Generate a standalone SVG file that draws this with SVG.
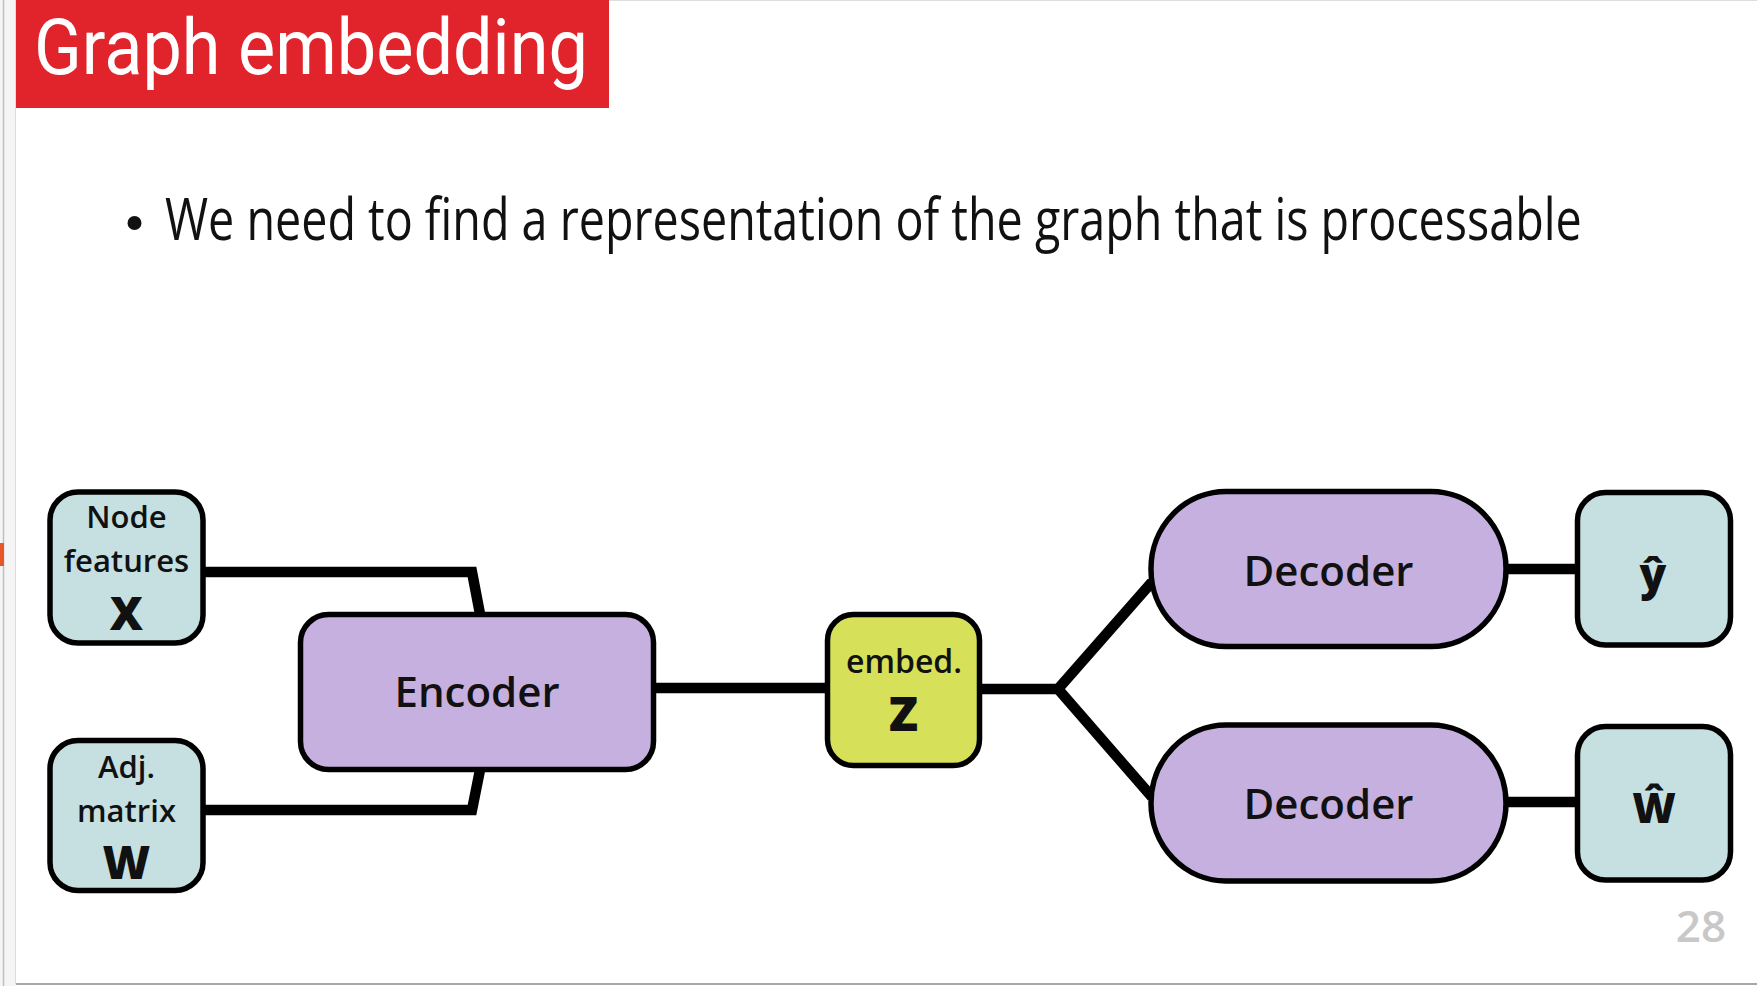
<svg xmlns="http://www.w3.org/2000/svg" width="1757" height="986" viewBox="0 0 1757 986">
  <style>
    .lbl { font-family: "Open Sans", "Noto Sans", "Liberation Sans", sans-serif; font-weight: 600; fill: #111; text-anchor: middle; }
    .big { font-family: "Open Sans", "Noto Sans", "Liberation Sans", sans-serif; font-weight: 800; fill: #111; text-anchor: middle; }
    .teal { fill: #c6e0e2; stroke: #000; stroke-width: 5.5; }
    .purple { fill: #c6b0e0; stroke: #000; stroke-width: 5.5; }
    .yellow { fill: #d6e058; stroke: #000; stroke-width: 5.5; }
    .conn { fill: none; stroke: #000; stroke-width: 10.5; stroke-linejoin: miter; stroke-linecap: butt; }
  </style>
  <rect x="0" y="0" width="1757" height="986" fill="#ffffff"/>
  <!-- slide frame -->
  <rect x="0" y="0" width="16" height="986" fill="#f5f5f5"/>
  <line x1="3.5" y1="0" x2="3.5" y2="986" stroke="#c0c0c0" stroke-width="1.5"/>
  <line x1="15.5" y1="0" x2="15.5" y2="984" stroke="#dcdcdc" stroke-width="1"/>
  <rect x="0" y="543" width="4" height="23" fill="#e8572a"/>
  <line x1="16" y1="0.5" x2="1757" y2="0.5" stroke="#dddddd" stroke-width="1"/>
  <line x1="16" y1="984" x2="1757" y2="984" stroke="#a8a8a8" stroke-width="2"/>

  <!-- title -->
  <g id="title">
    <rect x="16" y="0" width="593" height="108" fill="#e1232b"/>
    <text transform="translate(34,74) scale(0.912,1)" x="0" y="0" font-family="Roboto, 'Open Sans', sans-serif" font-size="77" fill="#ffffff">Graph embedding</text>
  </g>

  <!-- bullet -->
  <g id="bullet">
    <circle cx="134.5" cy="223" r="7" fill="#111"/>
    <text transform="translate(165,240) scale(0.8045,1)" x="0" y="0" font-family="'Open Sans', 'Noto Sans', sans-serif" font-size="58" fill="#111">We need to find a representation of the graph that is processable</text>
  </g>

  <!-- connectors -->
  <g id="connectors">
    <path class="conn" d="M 203 572 H 472 L 480 614"/>
    <path class="conn" d="M 203 810 H 472 L 480 770"/>
    <path class="conn" d="M 654 688 H 827"/>
    <path class="conn" d="M 980 689 H 1058"/>
    <path class="conn" d="M 1152 582 L 1058 689 L 1152 797"/>
    <path class="conn" d="M 1506 569 H 1578"/>
    <path class="conn" d="M 1506 802 H 1578"/>
  </g>

  <g id="node-x">
    <rect class="teal" x="50" y="492" width="153" height="151" rx="28"/>
    <text class="lbl" x="126.5" y="528" font-size="31">Node</text>
    <text class="lbl" x="126.5" y="572" font-size="31">features</text>
    <text class="big" x="126.5" y="630" font-size="46">X</text>
  </g>

  <g id="node-w">
    <rect class="teal" x="50" y="740.5" width="153" height="150" rx="28"/>
    <text class="lbl" x="126.5" y="778" font-size="31">Adj.</text>
    <text class="lbl" x="126.5" y="822" font-size="31">matrix</text>
    <text class="big" x="126.5" y="879" font-size="46">W</text>
  </g>

  <g id="encoder">
    <rect class="purple" x="300.5" y="614.5" width="353" height="155" rx="28"/>
    <text class="lbl" x="477" y="707" font-size="42">Encoder</text>
  </g>

  <g id="embed">
    <rect class="yellow" x="827.5" y="614.5" width="152" height="151" rx="26"/>
    <text class="lbl" x="904" y="673" font-size="32">embed.</text>
    <text class="big" x="903.5" y="731" font-size="48">Z</text>
  </g>

  <g id="decoder-1">
    <rect class="purple" x="1151" y="491.5" width="355" height="155" rx="75" ry="77"/>
    <text class="lbl" x="1328.5" y="586" font-size="42">Decoder</text>
  </g>

  <g id="decoder-2">
    <rect class="purple" x="1151" y="725" width="355" height="156" rx="75" ry="78"/>
    <text class="lbl" x="1328.5" y="819" font-size="42">Decoder</text>
  </g>

  <g id="out-y">
    <rect class="teal" x="1577.5" y="492.5" width="153" height="152.5" rx="28"/>
    <text class="big" x="1653" y="590" font-size="44">ŷ</text>
  </g>

  <g id="out-w">
    <rect class="teal" x="1577.5" y="726.5" width="153" height="153.5" rx="28"/>
    <text class="big" x="1654" y="823" font-size="42">Ŵ</text>
  </g>

  <text x="1701" y="942" font-family="'Open Sans', 'Noto Sans', sans-serif" font-weight="600" font-size="44" fill="#c8c8c8" text-anchor="middle">28</text>
</svg>
